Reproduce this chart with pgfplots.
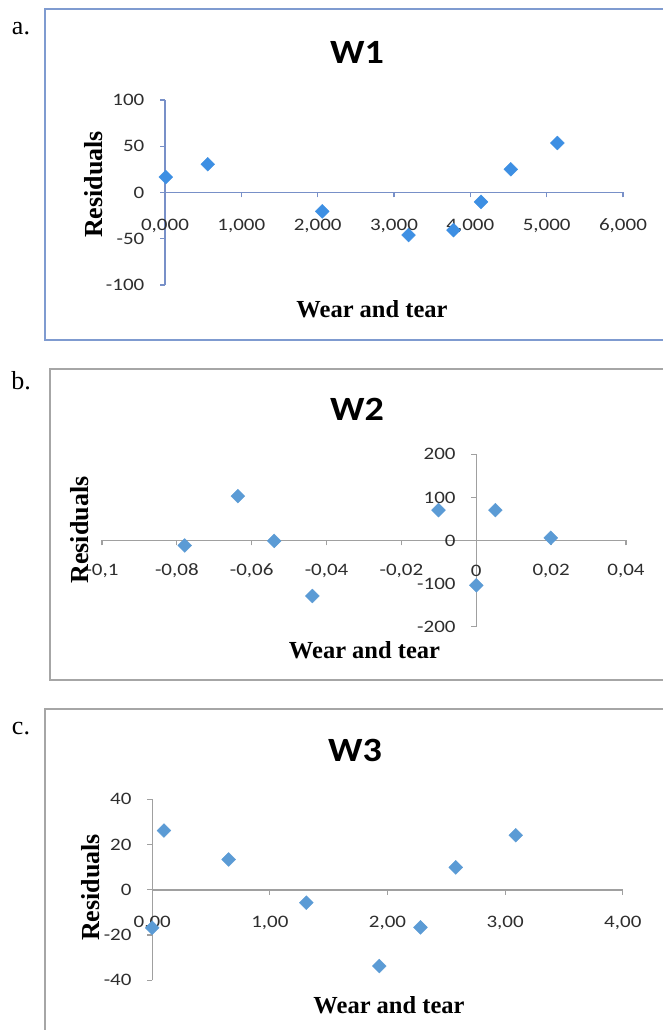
\documentclass[border=0pt]{standalone}
\usepackage{pgfplots}
\pgfplotsset{compat=1.18}
\usepackage{fontspec}
\setmainfont{Liberation Serif}
\newfontfamily\carlito[FakeStretch=1.2]{Carlito}
\newfontfamily\carlitoT[FakeStretch=1.12]{Carlito}
\definecolor{frameA}{HTML}{7F9BD0}
\definecolor{axisA}{HTML}{7890C8}
\definecolor{markA}{HTML}{3D8FE3}
\definecolor{frameG}{HTML}{A6A6A6}
\definecolor{axisG}{HTML}{A0A0A0}
\definecolor{markB}{HTML}{5B9BD5}
\definecolor{tickText}{HTML}{2E2E2E}
\pgfplotsset{
  resid/.style={
    scale only axis, axis lines=middle, enlargelimits=false, clip=false,
    axis line style={-, line width=1.4pt, #1},
    tick style={line width=1.2pt, #1},
    tick align=outside, major tick length=5pt,
    hide obscured x ticks=false, hide obscured y ticks=false,
    ticklabel style={font=\fontsize{17.5}{20}\selectfont\carlito, text=tickText, inner sep=0pt},
    xticklabel style={anchor=center, yshift=-28pt},
    yticklabel style={anchor=east, xshift=-15.5pt},
    anchor=south west,
  }
}
\begin{document}
\begin{tikzpicture}
\useasboundingbox (0pt,0pt) rectangle (663pt,1030pt);
\fill[white] (0pt,0pt) rectangle (663pt,1030pt);
% frames
\draw[frameA, line width=1.6pt] (680pt,1020.7pt) -- (45.2pt,1020.7pt) -- (45.2pt,690pt) -- (680pt,690pt);
\draw[frameG, line width=1.6pt] (680pt,661pt) -- (49.9pt,661pt) -- (49.9pt,350pt) -- (680pt,350pt);
\draw[frameG, line width=1.6pt] (680pt,321pt) -- (45.2pt,321pt) -- (45.2pt,-10pt);
% panel labels
\node[font=\fontsize{26}{30}\selectfont, anchor=base] at (21pt,995pt) {a.};
\node[font=\fontsize{26}{30}\selectfont, anchor=base] at (21pt,640pt) {b.};
\node[font=\fontsize{26}{30}\selectfont, anchor=base] at (21pt,295pt) {c.};

% Panel a
\begin{axis}[resid=axisA, at={(165pt,745pt)}, width=458pt, height=185pt,
  xmin=0, xmax=6, ymin=-100, ymax=100,
  xtick={0,1,2,3,4,5,6}, xticklabels={{0,000},{1,000},{2,000},{3,000},{4,000},{5,000},{6,000}},
  ytick={-100,-50,0,50,100}, yticklabels={-100,-50,0,50,100}]
\addplot[only marks, mark=square*, mark size=4.9pt, mark options={rotate=45, fill=markA, draw=markA}]
  coordinates {(0.01,16.7) (0.56,30.5) (2.06,-20.4) (3.19,-46) (3.78,-40.7) (4.14,-10.2) (4.53,25.1) (5.14,53.5)};
\end{axis}

% Panel b
\begin{axis}[resid=axisG, at={(102pt,403.3pt)}, width=524pt, height=172.4pt,
  xmin=-0.1, xmax=0.04, ymin=-200, ymax=200,
  xticklabel style={yshift=3pt},
  xtick={-0.1,-0.08,-0.06,-0.04,-0.02,0,0.02,0.04}, xticklabels={{-0,1},{-0,08},{-0,06},{-0,04},{-0,02},0,{0,02},{0,04}},
  ytick={-200,-100,0,100,200}, yticklabels={-200,-100,0,100,200}]
\addplot[only marks, mark=square*, mark size=4.9pt, mark options={rotate=45, fill=markB, draw=markB}]
  coordinates {(-0.0779,-11.6) (-0.0637,103) (-0.054,-1) (-0.0438,-128.7) (-0.0101,70.5) (0,-104) (0.0051,70.5) (0.0199,6.2)};
\end{axis}

% Panel c
\begin{axis}[resid=axisG, at={(152.2pt,49.7pt)}, width=470.6pt, height=181pt,
  xmin=0, xmax=4, ymin=-40, ymax=40,
  xtick={0,1,2,3,4}, xticklabels={{0,00},{1,00},{2,00},{3,00},{4,00}},
  ytick={-40,-20,0,20,40}, yticklabels={-40,-20,0,20,40}]
\addplot[only marks, mark=square*, mark size=4.9pt, mark options={rotate=45, fill=markB, draw=markB}]
  coordinates {(0,-16.8) (0.10,26.2) (0.65,13.4) (1.31,-5.7) (1.93,-33.7) (2.28,-16.6) (2.58,9.9) (3.09,24.1)};
\end{axis}

% titles and axis labels
\node[font=\fontsize{34}{38}\selectfont\carlitoT\bfseries] at (357pt,978pt) {W1};
\node[font=\fontsize{34}{38}\selectfont\carlitoT\bfseries] at (357pt,621pt) {W2};
\node[font=\fontsize{34}{38}\selectfont\carlitoT\bfseries] at (355pt,280pt) {W3};
\node[font=\fontsize{24.5}{28}\selectfont\bfseries] at (372pt,721pt) {Wear and tear};
\node[font=\fontsize{24.5}{28}\selectfont\bfseries] at (364.5pt,380pt) {Wear and tear};
\node[font=\fontsize{24.5}{28}\selectfont\bfseries] at (389pt,25pt) {Wear and tear};
\node[font=\fontsize{26}{28}\selectfont\bfseries, rotate=90] at (94pt,845.5pt) {Residuals};
\node[font=\fontsize{26}{28}\selectfont\bfseries, rotate=90] at (80pt,500pt) {Residuals};
\node[font=\fontsize{26}{28}\selectfont\bfseries, rotate=90] at (91pt,142.5pt) {Residuals};
\end{tikzpicture}
\end{document}
